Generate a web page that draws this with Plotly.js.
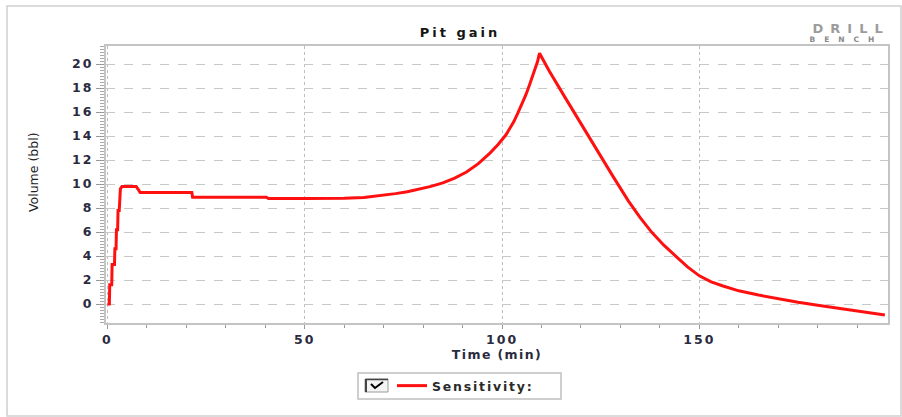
<!DOCTYPE html>
<html>
<head>
<meta charset="utf-8">
<script src="https://cdn.plot.ly/plotly-3.0.1.min.js"></script>
<style>
html,body{margin:0;padding:0;background:#fff;}
#chart{width:902px;height:417px;}
#chart .gtitle{letter-spacing:3px;}
#chart .xtick text, #chart .ytick text{letter-spacing:2px;}
#chart .xtitle{letter-spacing:1.4px;}
#chart .legendtext{letter-spacing:1.8px;}
#chart .annotation[data-index="0"] text{letter-spacing:7px;}
#chart .annotation[data-index="1"] text{letter-spacing:9px;}
</style>
</head>
<body>
<div id="chart"></div>
<script>
// Data
const timeMin = [0, 0.5, 0.6, 1.1, 1.2, 1.8, 1.9, 2.2, 2.3, 2.6, 2.7, 3.0, 3.3, 3.7, 7.3, 8.3, 21.4, 21.6, 40.3, 40.8,
  50, 55, 60, 65, 70, 73, 76, 79, 82, 85, 88, 91, 94, 97, 99, 101, 103, 104, 105, 106, 107, 108, 109, 109.5,
  112, 116, 120, 124, 128, 132, 135, 138, 141, 144, 147, 150, 153, 156, 160, 165, 170, 175, 180, 185, 190, 197];
const volumeBbl = [0, 0, 1.6, 1.6, 3.3, 3.3, 4.6, 4.6, 6.2, 6.2, 7.8, 7.8, 9.6, 9.8, 9.8, 9.3, 9.3, 8.9, 8.9, 8.8,
  8.8, 8.8, 8.82, 8.88, 9.05, 9.2, 9.35, 9.55, 9.8, 10.1, 10.5, 11.0, 11.7, 12.6, 13.3, 14.1, 15.2, 15.9, 16.6, 17.4, 18.3, 19.2, 20.2, 20.9,
  19.4, 17.2, 15.0, 12.8, 10.7, 8.6, 7.2, 5.95, 4.9, 4.0, 3.1, 2.35, 1.85, 1.5, 1.1, 0.75, 0.42, 0.15, -0.1, -0.35, -0.6, -0.92];
const seriesName = "Sensitivity:";
const xTickVals = [0, 50, 100, 150];
const yTickVals = [0, 2, 4, 6, 8, 10, 12, 14, 16, 18, 20];

const W = 902, H = 417;
const mL = 106, mR = 14, mT = 46, mB = 94;
const pw = W - mL - mR, ph = H - mT - mB;
const px = v => (v - mL) / pw;          // pixel -> paper x
const py = v => (H - mB - v) / ph;      // pixel -> paper y

const boldFont = "DejaVu Sans, Verdana, sans-serif";
const tickFont = {family: boldFont, size: 12.5, color: "#2b2b40", weight: "bold"};

const trace = {
  x: timeMin, y: volumeBbl, type: "scatter", mode: "lines", name: seriesName,
  line: {color: "#ff1010", width: 3}
};

const layout = {
  width: W, height: H,
  margin: {l: mL, r: mR, t: mT, b: mB, pad: 0},
  paper_bgcolor: "#ffffff", plot_bgcolor: "#ffffff",
  title: {text: "Pit gain", x: 460 / W, xref: "container", xanchor: "center",
          y: 1 - 32 / H, yref: "container", yanchor: "middle",
          font: {family: boldFont, size: 13, color: "#151515", weight: "bold"}},
  xaxis: {
    range: [-0.35, 197.8], tickvals: xTickVals, ticktext: xTickVals.map(String),
    ticks: "outside", ticklen: 4, tickcolor: "#999", tickwidth: 1,
    minor: {dtick: 10, tick0: 0, ticks: "outside", ticklen: 3, tickcolor: "#999", showgrid: false},
    showline: true, linecolor: "#c4c4c4", linewidth: 2, mirror: true,
    showgrid: true, gridcolor: "#bdbdbd", griddash: "dot", gridwidth: 1,
    zeroline: false, tickfont: tickFont,
    title: {text: "Time (min)", standoff: 3,
            font: {family: boldFont, size: 12.5, color: "#2b2b40", weight: "bold"}}
  },
  yaxis: {
    range: [-1.58, 21.5], tickvals: yTickVals, ticktext: yTickVals.map(String),
    ticks: "outside", ticklen: 8, tickcolor: "#999", tickwidth: 1,
    minor: {dtick: 0.25, tick0: 0, ticks: "outside", ticklen: 4, tickcolor: "#aaa", showgrid: false},
    showline: true, linecolor: "#c4c4c4", linewidth: 2, mirror: true,
    showgrid: true, gridcolor: "#c8c8c8", griddash: "dash", gridwidth: 1,
    zeroline: false, tickfont: tickFont,
    title: {text: ""}
  },
  showlegend: true,
  legend: {
    x: px(392), xanchor: "left", y: py(386), yanchor: "middle",
    bgcolor: "rgba(0,0,0,0)", borderwidth: 0, orientation: "h",
    entrywidth: 160, entrywidthmode: "pixels",
    font: {family: boldFont, size: 12.5, color: "#2a2a2a", weight: "bold"}
  },
  shapes: [
    // outer frame
    {type: "rect", xref: "paper", yref: "paper", x0: px(7), x1: px(901), y0: py(416), y1: py(6),
     line: {color: "#cfcfcf", width: 1.5}},
    // legend box
    {type: "rect", xref: "paper", yref: "paper", x0: px(358), x1: px(561), y0: py(399), y1: py(373),
     line: {color: "#c0c0c0", width: 1.5}, fillcolor: "rgba(0,0,0,0)"},
    // checkbox
    {type: "rect", xref: "paper", yref: "paper", x0: px(365), x1: px(388), y0: py(392), y1: py(379),
     line: {color: "#9a9a9a", width: 1}, fillcolor: "#f4f4f4"},
    {type: "line", xref: "paper", yref: "paper", x0: px(366), x1: px(366), y0: py(392), y1: py(379),
     line: {color: "#444", width: 2}},
    {type: "line", xref: "paper", yref: "paper", x0: px(366), x1: px(388), y0: py(379.5), y1: py(379.5),
     line: {color: "#444", width: 1.5}},
    {type: "path", xref: "paper", yref: "paper",
     path: `M ${px(371)} ${py(384)} L ${px(375)} ${py(388)} L ${px(383)} ${py(382)}`,
     line: {color: "#000", width: 2}}
  ],
  annotations: [
    {text: "DRILL", xref: "paper", yref: "paper", x: px(828), y: py(28.5), xanchor: "left", yanchor: "middle",
     showarrow: false, font: {family: boldFont, size: 13, color: "#9c9c9c", weight: "bold"}},
    {text: "BENCH", xref: "paper", yref: "paper", x: px(830), y: py(39), xanchor: "left", yanchor: "middle",
     showarrow: false, font: {family: boldFont, size: 7.5, color: "#8a8a8a", weight: "bold"}},
    {text: "Volume (bbl)", xref: "paper", yref: "paper", x: px(33), y: py(172), xanchor: "center", yanchor: "middle",
     textangle: -90, showarrow: false, font: {family: "DejaVu Sans, sans-serif", size: 12.5, color: "#222"}}
  ]
};

Plotly.newPlot("chart", [trace], layout, {displayModeBar: false, staticPlot: true});
</script>
</body>
</html>
